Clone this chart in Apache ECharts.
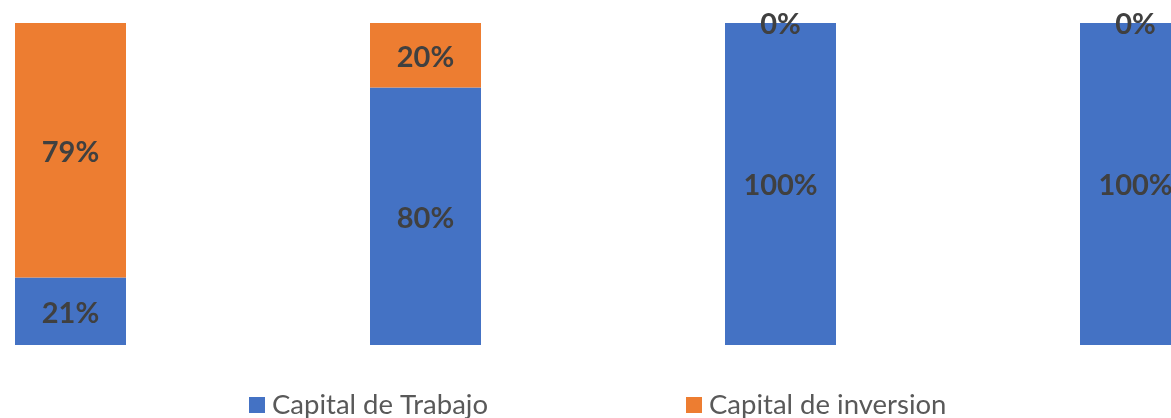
<!DOCTYPE html>
<html>
<head>
<meta charset="utf-8">
<script src="https://cdn.jsdelivr.net/npm/echarts@6/dist/echarts.min.js"></script>
<style>
html,body{margin:0;padding:0;background:#fff;overflow:hidden;width:1171px;height:418px;}
#chart{width:1420px;height:418px;margin-left:-107px;}
</style>
</head>
<body>
<div id="chart"></div>
<script>
const categories = ['A', 'B', 'C', 'D'];
const capitalTrabajo = [21, 80, 100, 100];
const capitalInversion = [79, 20, 0, 0];
const seriesNames = ['Capital de Trabajo', 'Capital de inversion'];

const labelStyle = {
  show: true,
  position: 'inside',
  offset: [0, 2],
  formatter: p => p.value + '%',
  color: '#404040',
  fontFamily: 'Lato',
  fontWeight: 'bold',
  fontSize: 29
};

const chart = echarts.init(document.getElementById('chart'));
chart.setOption({
  animation: false,
  backgroundColor: '#ffffff',
  grid: { left: 0, right: 0, top: 23, bottom: 73, containLabel: false },
  xAxis: { type: 'category', data: categories, show: false },
  yAxis: { type: 'value', min: 0, max: 100, show: false },
  legend: [
    {
      data: [seriesNames[0]], left: 356, top: 391, padding: 0, itemWidth: 16, itemHeight: 16,
      icon: 'rect', textStyle: { color: '#595959', fontFamily: 'Lato', fontSize: 27.5, padding: [0, 0, 0, 2] }
    },
    {
      data: [seriesNames[1]], left: 793, top: 391, padding: 0, itemWidth: 16, itemHeight: 16,
      icon: 'rect', textStyle: { color: '#595959', fontFamily: 'Lato', fontSize: 27.5, padding: [0, 0, 0, 2] }
    }
  ],
  series: [
    {
      name: seriesNames[0], type: 'bar', stack: 'total', barWidth: 111,
      data: capitalTrabajo, itemStyle: { color: '#4472C4' }, label: labelStyle
    },
    {
      name: seriesNames[1], type: 'bar', stack: 'total', barWidth: 111,
      data: capitalInversion, itemStyle: { color: '#ED7D31' }, label: labelStyle
    }
  ]
});
</script>
</body>
</html>
